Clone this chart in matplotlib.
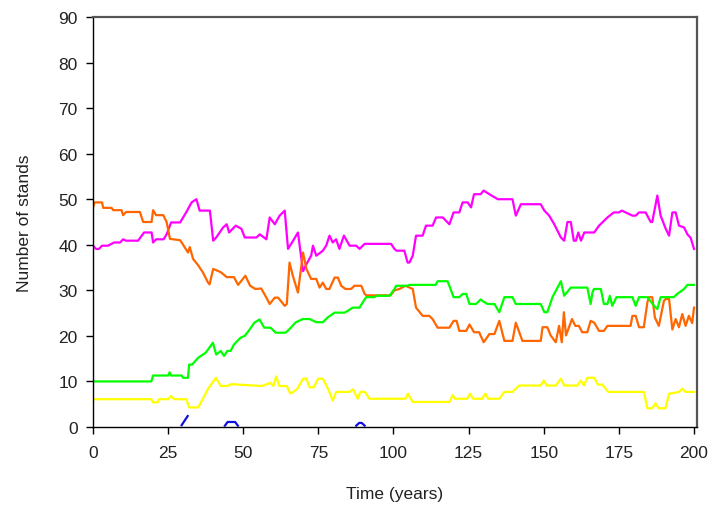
import numpy as np
import matplotlib
matplotlib.use("Agg")
import matplotlib.pyplot as plt

plt.rcParams["font.family"] = ["Liberation Sans", "DejaVu Sans"]

# magenta
mag_x = [0, 1, 2, 3, 5, 7, 9, 10, 11, 15, 17, 19.5, 20, 21, 23.5, 24.5, 26, 29, 31, 32.8,
         34.4, 35.5, 38.9, 40, 41, 43.3, 44.5, 45.3, 47.5, 49.4, 50.5, 54.4, 55.5, 57.7, 58.8,
         60.5, 62.1, 63.8, 64.9, 66.6, 68.2, 69.9, 71, 72.6, 73.2, 74.3, 76.5, 77.6, 78.7, 79.8,
         80.9, 82, 83.5, 85.4, 87.6, 88.7, 90.4, 99.2, 100.3, 101, 103.6, 104.7, 105.3, 106.4,
         107.5, 109.7, 110.8, 113, 114.2, 116.4, 118.6, 120, 121.9, 123, 124.7, 125.8, 126.8,
         129, 130, 131.9, 134.7, 139.6, 140.7, 142.4, 149, 150.2, 151.8, 153.5, 155.7, 156.8,
         157.9, 159, 160, 160.7, 161.5, 162.4, 163.5, 166.8, 168.4, 171.2, 173.3, 175, 176,
         179.5, 180.6, 181.7, 183.9, 185.6, 186.1, 187.8, 188.9, 190.6, 191.7, 192.8, 193.9,
         195, 196.7, 197.8, 198.9, 200]
mag_y = [39.8, 39.1, 39.1, 39.8, 39.8, 40.5, 40.5, 41.2, 40.9, 40.9, 42.7, 42.7, 40.5, 41.2,
         41.2, 42.3, 44.9, 44.9, 47.1, 49.3, 50, 47.5, 47.5, 40.9, 41.6, 43.8, 44.5, 42.7, 44.2,
         43.5, 41.6, 41.6, 42.3, 41.2, 46, 44.5, 46.4, 47.5, 39.1, 40.9, 42.7, 34.2, 35.7, 37.6,
         39.8, 37.6, 38.7, 39.8, 42, 40.5, 41.2, 39.1, 42, 39.8, 39.8, 39.1, 40.2, 40.2, 39.1,
         38.7, 38.7, 36.1, 36.1, 37.6, 42, 42, 44.2, 44.2, 46, 46, 44.5, 47.1, 47.1, 49.3, 49.3,
         48.2, 51.1, 51.1, 51.9, 51.1, 50, 50, 46.4, 48.9, 48.9, 47.5, 46.4, 44.5, 41.6, 40.9,
         45, 45, 40.9, 40.9, 42.7, 40.9, 42.7, 42.7, 44.2, 46, 47.1, 47.1, 47.5, 46.4, 46.4,
         47.1, 47.1, 45, 45, 50.8, 46.4, 43.5, 42, 47.1, 47.1, 44.2, 43.8, 42.3, 41.5, 39.1]

# orange
ora_x = [0, 0.5, 3, 3.4, 6.2, 6.7, 9.5, 10, 11, 15.6, 16.7, 19.5, 20, 21, 23.4, 24.5, 25.6,
         29, 30, 31.6, 32.2, 33.3, 35, 36.6, 38.2, 38.8, 40, 42.5, 44.5, 46.9, 48.3, 50.7,
         52.3, 54, 56, 57.7, 58.8, 60.5, 61.6, 63.8, 64.5, 65.4, 66.5, 68.2, 69.9, 71, 72.6,
         74.3, 75.4, 76.5, 77.6, 78.7, 80.4, 81.5, 82.6, 84, 85.9, 87, 89.3, 90.4, 91, 99,
         100.3, 102, 104, 106.4, 107.5, 109.7, 111.9, 113, 114.7, 118.6, 120, 121, 121.9, 124.2,
         125.3, 126.8, 128.5, 130, 131.9, 133.6, 135.2, 136.9, 139.6, 140.7, 142.9, 149, 149.6,
         151.2, 152.3, 154, 155.1, 156, 156.7, 157.4, 159.4, 160.5, 161.7, 162.8, 164.5, 165.6,
         166.8, 168.4, 170, 171.2, 178.9, 179.5, 180.6, 181.7, 183.3, 184.5, 185, 186.1, 187,
         188.3, 190, 190.6, 191.7, 192.8, 193.9, 195, 196.1, 197.2, 198.3, 199.4, 200]
ora_y = [48.2, 49.3, 49.3, 48.1, 48.1, 47.6, 47.6, 46.5, 47.2, 47.2, 45, 45, 47.6, 46.5, 46.5,
         45, 41.3, 41, 40, 38.3, 39.5, 36.9, 35.5, 33.9, 31.8, 31.3, 34.7, 34, 32.9, 32.9, 31.2,
         33.2, 31, 30.3, 30.4, 28.4, 27, 28.4, 28.4, 26.6, 27, 36.1, 33.2, 29.5, 38.3, 34.7,
         32.5, 32.5, 30.6, 31.7, 30.3, 30.3, 32.8, 32.8, 31, 30.3, 30.3, 31, 31, 29.2, 28.9,
         28.9, 30, 30.3, 31, 30.3, 26.2, 24.4, 24.4, 23.7, 21.8, 21.8, 23.3, 23.3, 21.1, 21.1,
         22.5, 20.8, 20.8, 18.6, 20.4, 20.4, 23.3, 18.9, 18.9, 22.9, 18.9, 18.9, 21.9, 21.9,
         20.1, 18.6, 22.2, 18.6, 25.2, 20.1, 23.7, 22.2, 22.2, 20.8, 20.8, 23.3, 22.9, 21.1,
         21.1, 22.2, 22.2, 24.4, 24.4, 21.9, 21.9, 27.4, 28.5, 28.5, 24, 22.2, 27.7, 28.1, 28.1,
         21.4, 23.7, 21.9, 24.8, 22.2, 24.4, 22.8, 26.2]

# green
grn_x = [0, 19.4, 20, 25, 25.5, 26, 29.5, 30, 31.6, 32, 33, 35, 37.5, 39.9, 41, 42.5, 43.6,
         44.7, 45.8, 46.9, 49.1, 50.5, 51.8, 53.7, 55.4, 57, 59.1, 60.8, 64.1, 65.4, 67.5, 69.9,
         72.1, 74.3, 76.5, 78.2, 80.4, 83.7, 84.8, 86.4, 88.7, 89.8, 90.9, 93.7, 94.2, 98.7,
         100.3, 100.9, 104.7, 105.3, 114, 114.7, 118, 120, 121.9, 123, 124.2, 125.3, 127.5,
         129, 130, 131.3, 133.6, 135.2, 136.9, 139.6, 140.7, 149, 150.2, 151.2, 152.9, 155.7,
         156.8, 159, 164.5, 165.6, 166.2, 166.7, 169, 170, 171.2, 172, 172.8, 174.2, 179.5,
         180.6, 181.7, 184.5, 186.7, 187.8, 188.9, 193.3, 194.4, 196.7, 197.8, 200]
grn_y = [10, 10, 11.3, 11.3, 12, 11.3, 11.3, 10.8, 10.8, 13.7, 13.7, 15.2, 16.3, 18.5, 15.9,
         16.7, 15.6, 16.7, 16.7, 18.1, 19.6, 20, 21.1, 22.9, 23.6, 21.8, 21.8, 20.7, 20.7, 21.5,
         23, 23.7, 23.7, 23, 23, 24.1, 25.1, 25.1, 25.5, 26.2, 26.2, 27.4, 28.5, 28.5, 28.8,
         28.8, 30.3, 31, 31, 31.2, 31.2, 32, 32, 28.5, 28.5, 29.2, 29.2, 27, 27, 28, 27.5, 27,
         27, 25.2, 28.5, 28.5, 27, 27, 25.2, 25.2, 28.5, 32, 28.8, 30.6, 30.6, 27, 29.5, 30.3,
         30.3, 27, 27, 28.8, 26.6, 28.5, 28.5, 26.6, 28.5, 28.5, 26.6, 25.9, 28.5, 28.5, 29.2,
         30.3, 31.2, 31.2]

# yellow
yel_x = [0, 19.4, 20, 21.5, 22, 25, 26, 27, 31, 32, 35, 36.5, 38.2, 40.9, 42.5, 44.7, 46,
         56.3, 59, 60, 61, 62, 64.5, 65.6, 66.5, 68, 69.9, 71, 72.1, 73.5, 74.9, 76.5, 78.2,
         79.8, 80.9, 85.4, 86.5, 88.1, 89, 90.5, 92, 104, 104.8, 106.4, 118.6, 119.7, 120.5,
         124.5, 125.5, 126.5, 129.5, 130.6, 131.5, 135.2, 136.9, 139.6, 141.8, 149, 150, 151,
         154, 155.7, 156.8, 161.2, 162.3, 163.4, 164.5, 166.8, 168, 169.5, 171.5, 183.3, 184.5,
         186.1, 187.2, 188.3, 190.5, 191.7, 195, 196.1, 197.2, 200]
yel_y = [6.1, 6.1, 5.4, 5.4, 6.1, 6.1, 6.8, 6.1, 6.1, 4.3, 4.3, 6.1, 8.3, 10.8, 9, 9, 9.4, 9,
         9.7, 9, 11.1, 9, 9, 7.4, 7.6, 8.4, 10.6, 10.6, 8.7, 8.7, 10.6, 10.6, 8.4, 5.8, 7.7, 7.7,
         8.3, 6.2, 7.7, 7.7, 6.2, 6.2, 7.3, 5.5, 5.5, 7, 6.2, 6.2, 7.3, 6.2, 6.2, 7.3, 6.2, 6.2,
         7.7, 7.7, 9.1, 9.1, 10.2, 9.1, 9.1, 10.6, 9.1, 9.1, 10.2, 9.1, 10.8, 10.8, 9.3, 9.3,
         7.7, 7.7, 4.1, 4.1, 5.2, 4.1, 4.1, 7.3, 7.7, 8.4, 7.7, 7.7]

# blue (only visible where above zero)
blu_x = [29.5, 31.5, np.nan, 43.9, 44.8, 47.3, 48.2, np.nan, 87.6, 88.6, 89.4, 90.4]
blu_y = [0.4, 2.4, np.nan, 0.3, 1.1, 1.1, 0.3, np.nan, 0.3, 0.9, 0.9, 0.3]

x_ticks = [0, 25, 50, 75, 100, 125, 150, 175, 200]
y_ticks = [0, 10, 20, 30, 40, 50, 60, 70, 80, 90]

fig = plt.figure(figsize=(7.12, 5.06), dpi=100)
ax = fig.add_axes([93 / 712, 78 / 506, 604 / 712, 410 / 506])

lw = 1.6
ax.plot(mag_x, mag_y, color="#FF00FF", lw=lw)
ax.plot(ora_x, ora_y, color="#FF6600", lw=lw)
ax.plot(grn_x, grn_y, color="#00FF00", lw=lw)
ax.plot(yel_x, yel_y, color="#FFFF00", lw=lw)
ax.plot(blu_x, blu_y, color="#1010E0", lw=lw)

ax.set_xlim(0, 201)
ax.set_ylim(0, 90)
ax.set_xticks(x_ticks)
ax.set_yticks(y_ticks)
ax.tick_params(direction="out", length=5, width=1, labelsize=12.5, colors="black",
               labelcolor="#222222")
ax.tick_params(axis="x", pad=8)
ax.tick_params(axis="y", pad=6)

for side in ["left", "bottom"]:
    ax.spines[side].set_color("black")
    ax.spines[side].set_linewidth(1)
for side in ["top", "right"]:
    ax.spines[side].set_color("#555555")
    ax.spines[side].set_linewidth(1.6)

ax.set_xlabel("Time (years)", fontsize=12.5, labelpad=19, color="#222222")
ax.set_ylabel("Number of stands", fontsize=12.5, labelpad=19, color="#222222")

plt.savefig("out.png", dpi=100)
